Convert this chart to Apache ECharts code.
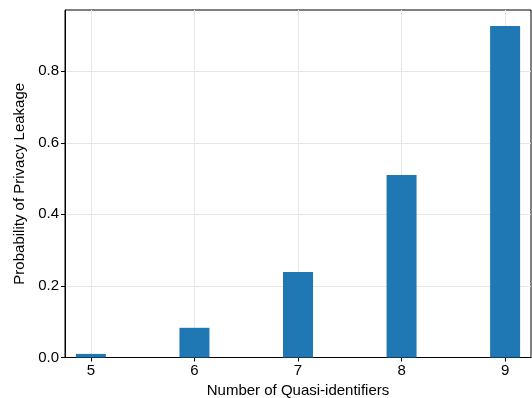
<!DOCTYPE html>
<html>
<head>
<meta charset="utf-8">
<script src="https://cdn.jsdelivr.net/npm/echarts@6/dist/echarts.min.js"></script>
<style>
  html, body { margin: 0; padding: 0; background: #fff; }
  #chart { width: 532px; height: 398px; }
</style>
</head>
<body>
<div id="chart"></div>
<script>
// Number of quasi-identifiers and the resulting leakage probability
const quasiIdentifiers = [5, 6, 7, 8, 9];
const leakageProbability = [0.010, 0.083, 0.239, 0.510, 0.926];
const yTicks = [0, 0.2, 0.4, 0.6, 0.8];

const font = 'Liberation Sans, Arial, sans-serif';

const chart = echarts.init(document.getElementById('chart'), null, { renderer: 'canvas' });

chart.setOption({
  animation: false,
  backgroundColor: '#ffffff',
  grid: {
    left: 65, top: 10, width: 466, height: 347.5,
    containLabel: false,
    outerBoundsMode: 'none',
    show: true, borderColor: '#000', borderWidth: 1, backgroundColor: 'transparent'
  },
  xAxis: {
    type: 'value',
    min: 4.75, max: 9.25,
    name: 'Number of Quasi-identifiers',
    nameLocation: 'middle',
    nameGap: 24,
    nameTextStyle: { fontFamily: font, fontSize: 15, color: '#000' },
    axisLine: { show: true, onZero: false, lineStyle: { color: '#000', width: 1 } },
    axisTick: { show: true, length: 4, lineStyle: { color: '#000' }, customValues: quasiIdentifiers },
    axisLabel: {
      fontFamily: font, fontSize: 15, color: '#000', margin: 6,
      customValues: quasiIdentifiers,
      formatter: v => String(v)
    },
    splitLine: { show: true, lineStyle: { color: '#e6e6e6', width: 1 } }
  },
  yAxis: {
    type: 'value',
    min: 0, max: 0.971,
    name: 'Probability of Privacy Leakage',
    nameLocation: 'middle',
    nameGap: 35,
    nameTextStyle: { fontFamily: font, fontSize: 15, color: '#000' },
    axisLine: { show: true, lineStyle: { color: '#000', width: 1 } },
    axisTick: { show: true, length: 4, lineStyle: { color: '#000' }, customValues: yTicks },
    axisLabel: {
      fontFamily: font, fontSize: 15, color: '#000', margin: 6,
      verticalAlign: 'middle',
      customValues: yTicks,
      formatter: v => v.toFixed(1)
    },
    splitLine: { show: true, lineStyle: { color: '#e6e6e6', width: 1 } }
  },
  series: [{
    type: 'bar',
    data: quasiIdentifiers.map((q, i) => [q, leakageProbability[i]]),
    barWidth: 30,
    itemStyle: { color: '#1f77b4' },
    z: 3
  }]
});
</script>
</body>
</html>
